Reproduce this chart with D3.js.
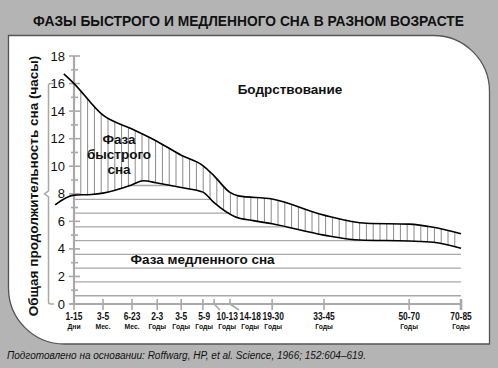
<!DOCTYPE html>
<html><head><meta charset="utf-8">
<script src="https://cdn.jsdelivr.net/npm/d3@7"></script>
<style>
html,body{margin:0;padding:0;background:#b4b4b4;}
svg{display:block;font-family:"Liberation Sans",Arial,Helvetica,sans-serif;}
</style></head>
<body>
<svg id="chart" width="498" height="368"></svg>
<script>
// ---------- DATA ----------
const categories = ["1-15","3-5","6-23","2-3","3-5","5-9","10-13","14-18","19-30","33-45","50-70","70-85"];
const units = ["Дни","Мес.","Мес.","Годы","Годы","Годы","Годы","Годы","Годы","Годы","Годы","Годы"];
const yTickValues = [0,1,2,3,4,5,6,7,8,9,10,11,12,13,14,15,16,17,18];
const yTickLabels = [0,2,4,6,8,10,12,14,16,18];
// total sleep (upper line): [category index, hours]
const totalSleep = [[-0.35,16.7],[0,16.0],[1,13.7],[2,12.7],[3,11.8],[4,10.8],[5,10.05],[6,9.3],[7,8.1],[7.2,7.85],[8,7.62],[9,6.45],[9.5,5.86],[10,5.8],[10.47,5.57],[11,5.1]];
// NREM sleep (lower line)
const nremSleep = [[-0.65,7.2],[0,7.9],[0.6,7.95],[1,8.05],[2,8.65],[2.45,8.95],[3,8.78],[4,8.45],[5,8.12],[6,7.35],[7.12,6.33],[7.55,6.05],[8,5.82],[9,5.0],[9.42,4.64],[10,4.57],[10.47,4.48],[11,4.05]];
const nremGridValues = [0.6,1.6,2.6,3.6,4.6,5.6,6.6,7.6,8.6];
const newbornBracket = [0,8,16];

// ---------- LAYOUT ----------
const svg = d3.select("#chart");
const L = 74, R = 461, T = 56, B = 304;
const xBreaks = [0,.075,.15,.215,.277,.333,.362,.403,.512,.646,.866,1];
const x = d3.scaleLinear().domain(categories.map((d,i)=>i)).range(xBreaks.map(f=>L+f*(R-L)));
const y = d3.scaleLinear().domain([0,18]).range([B,T]);

// panel
svg.append("path")
  .attr("d","M8.5,35.5 H433.5 A56,56 0 0 1 489.5,91.5 V344 H64.5 A56,56 0 0 1 8.5,288 Z")
  .attr("fill","#fff").attr("stroke","#555").attr("stroke-width",1.3);

// title
svg.append("text").attr("x",248.5).attr("y",26).attr("text-anchor","middle")
  .attr("font-weight","bold").attr("font-size",13.8).attr("fill","#111")
  .text("ФАЗЫ БЫСТРОГО И МЕДЛЕННОГО СНА В РАЗНОМ ВОЗРАСТЕ");

// footnote
svg.append("text").attr("x",7).attr("y",359).attr("font-style","italic")
  .attr("font-size",10).attr("fill","#111")
  .text("Подготовлено на основании: Roffwarg, HP, et al. Science, 1966; 152:604–619.");

// clip paths
const defs = svg.append("defs");
const lineGen = d3.line().x(d=>x(d[0])).y(d=>y(d[1])).curve(d3.curveMonotoneX);
const polyGen = d3.line().x(d=>x(d[0])).y(d=>y(d[1]));
const remPoly = totalSleep.concat(nremSleep.slice().reverse());
defs.append("clipPath").attr("id","remClip").append("path").attr("d",polyGen(remPoly)+"Z");
const nremPoly = nremSleep.concat([[11,0],[nremSleep[0][0],0]]);
defs.append("clipPath").attr("id","nremClip").append("path").attr("d",polyGen(nremPoly)+"Z");

// NREM gridlines
svg.append("g").attr("clip-path","url(#nremClip)")
  .selectAll("line").data(nremGridValues).join("line")
  .attr("x1",L).attr("x2",R).attr("y1",d=>y(d)).attr("y2",d=>y(d))
  .attr("stroke","#a8a8a8").attr("stroke-width",1.3);

// REM hatch
const hatchStep = 6.8;
const hatchX = d3.range(L+hatchStep, R+0.5, hatchStep);
svg.append("g").attr("clip-path","url(#remClip)")
  .selectAll("line").data(hatchX).join("line")
  .attr("x1",d=>d).attr("x2",d=>d).attr("y1",T).attr("y2",B)
  .attr("stroke","#8a8a8a").attr("stroke-width",1);

// axes
const axisColor = "#a9a9a9";
svg.append("line").attr("x1",L).attr("x2",L).attr("y1",y(18)).attr("y2",B)
  .attr("stroke",axisColor).attr("stroke-width",2.2);
svg.append("line").attr("x1",L-4).attr("x2",R+1).attr("y1",B).attr("y2",B)
  .attr("stroke",axisColor).attr("stroke-width",2.2);
svg.append("g").selectAll("line").data(yTickValues).join("line")
  .attr("x1",d=>d%2===0?L-5:L-3).attr("x2",d=>d%2===0?L+6:L+4)
  .attr("y1",d=>y(d)).attr("y2",d=>y(d))
  .attr("stroke",axisColor).attr("stroke-width",1.6);
svg.append("g").selectAll("text").data(yTickLabels).join("text")
  .attr("x",65).attr("y",d=>y(d)+4.6).attr("text-anchor","end")
  .attr("font-size",13).attr("fill","#111").text(d=>d);

// x ticks & labels with dodge
const minGap = 23;
const labelX = [];
categories.forEach((c,i)=>{
  const tx = x(i);
  labelX.push(i===0?tx:Math.max(tx,labelX[i-1]+minGap));
});
const xt = svg.append("g");
categories.forEach((c,i)=>{
  const tx = x(i), lx = labelX[i];
  if (lx - tx > 3) {
    xt.append("path").attr("d",`M${tx},${B-5} V${B} L${tx+(lx-tx)*0.45},${B+6}`)
      .attr("fill","none").attr("stroke",axisColor).attr("stroke-width",1.6);
  } else {
    xt.append("line").attr("x1",tx).attr("x2",tx).attr("y1",B-5).attr("y2",B+6)
      .attr("stroke",axisColor).attr("stroke-width",i===categories.length-1?2.6:1.6);
  }
  xt.append("text").attr("transform",`translate(${lx},319.5) scale(0.8,1)`).attr("text-anchor","middle")
    .attr("font-size",10.5).attr("font-weight","bold").attr("fill","#111").text(c);
  xt.append("text").attr("transform",`translate(${lx},328.5) scale(0.85,1)`).attr("text-anchor","middle")
    .attr("font-size",8).attr("font-weight","bold").attr("fill","#111").text(units[i]);
});

// lines
svg.append("path").attr("d",lineGen(totalSleep)).attr("fill","none")
  .attr("stroke","#000").attr("stroke-width",1.6);
svg.append("path").attr("d",lineGen(nremSleep)).attr("fill","none")
  .attr("stroke","#000").attr("stroke-width",1.6);

// bracket
const bx = 48.5, by0 = y(newbornBracket[0]), bym = y(newbornBracket[1]), by1 = y(newbornBracket[2]);
svg.append("path")
  .attr("d",`M54,${by1} H${bx+2} Q${bx},${by1} ${bx},${by1+2} V${bym-3} L${bx-4},${bym} L${bx},${bym+3} V${by0-2} Q${bx},${by0} ${bx+2},${by0} H54`)
  .attr("fill","none").attr("stroke",axisColor).attr("stroke-width",1.5);

// y-axis title
svg.append("text").attr("transform",`translate(38,${186}) rotate(-90)`)
  .attr("text-anchor","middle").attr("font-weight","bold").attr("font-size",13.5).attr("fill","#111")
  .text("Общая продолжительность сна (часы)");

// annotations
svg.append("text").attr("x",290).attr("y",94).attr("text-anchor","middle")
  .attr("font-weight","bold").attr("font-size",13.5).attr("fill","#111").text("Бодрствование");
const rem = svg.append("text").attr("text-anchor","middle").attr("font-weight","bold")
  .attr("font-size",13.5).attr("fill","#111");
[["Фаза",144],["быстрого",159],["сна",174]].forEach(([t,yy])=>{
  rem.append("tspan").attr("x",119).attr("y",yy).text(t);
});
svg.append("text").attr("x",202.5).attr("y",264).attr("text-anchor","middle")
  .attr("font-weight","bold").attr("font-size",13.5).attr("fill","#111").text("Фаза медленного сна");
</script>
</body></html>
